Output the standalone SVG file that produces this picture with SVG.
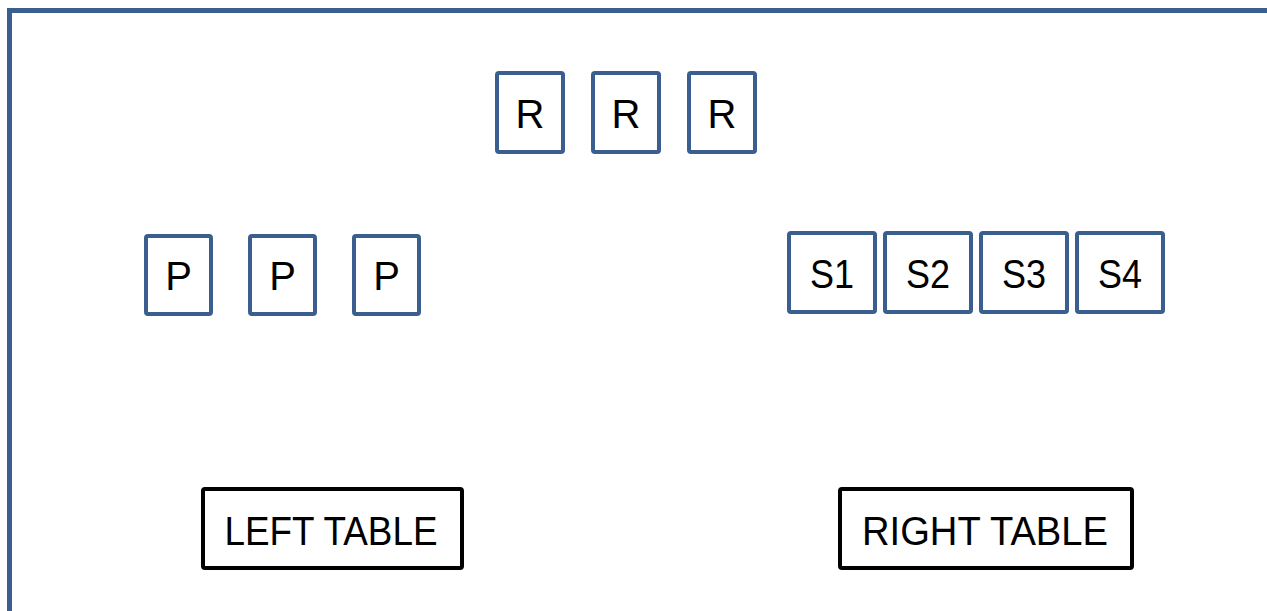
<svg xmlns="http://www.w3.org/2000/svg" width="1267" height="611" viewBox="0 0 1267 611">
<style>
.b{fill:#fff;stroke:#3A5F8E;stroke-width:4;}
.t{fill:#fff;stroke:#000;stroke-width:4;}
text{font-family:"Liberation Sans",Arial,sans-serif;font-size:40px;fill:#000;text-anchor:middle;}
</style>
<rect width="1267" height="611" fill="#fff"/>
<path d="M9.5 611 V10.5 H1267" fill="none" stroke="#3A5F8E" stroke-width="5"/>
<g id="connectors"/>
<g id="r1"><rect class="b" x="497" y="73" width="66" height="79" rx="2"/><text x="530" y="128">R</text></g>
<g id="r2"><rect class="b" x="593" y="73" width="66" height="79" rx="2"/><text x="626" y="128">R</text></g>
<g id="r3"><rect class="b" x="689" y="73" width="66" height="79" rx="2"/><text x="722" y="128">R</text></g>
<g id="p1"><rect class="b" x="146" y="236" width="65" height="78" rx="2"/><text x="178.5" y="290">P</text></g>
<g id="p2"><rect class="b" x="250" y="236" width="65" height="78" rx="2"/><text x="282.5" y="290">P</text></g>
<g id="p3"><rect class="b" x="354" y="236" width="65" height="78" rx="2"/><text x="386.5" y="290">P</text></g>
<g id="s1"><rect class="b" x="789" y="233" width="86" height="79" rx="2"/><text x="832" y="288" textLength="44" lengthAdjust="spacingAndGlyphs">S1</text></g>
<g id="s2"><rect class="b" x="885" y="233" width="86" height="79" rx="2"/><text x="928" y="288" textLength="44" lengthAdjust="spacingAndGlyphs">S2</text></g>
<g id="s3"><rect class="b" x="981" y="233" width="86" height="79" rx="2"/><text x="1024" y="288" textLength="44" lengthAdjust="spacingAndGlyphs">S3</text></g>
<g id="s4"><rect class="b" x="1077" y="233" width="86" height="79" rx="2"/><text x="1120" y="288" textLength="44" lengthAdjust="spacingAndGlyphs">S4</text></g>
<g id="left-table"><rect class="t" x="203" y="489" width="259" height="79" rx="2"/><text x="331" y="545" textLength="213" lengthAdjust="spacingAndGlyphs">LEFT TABLE</text></g>
<g id="right-table"><rect class="t" x="840" y="489" width="292" height="79" rx="2"/><text x="985" y="545" textLength="246" lengthAdjust="spacingAndGlyphs">RIGHT TABLE</text></g>
</svg>
